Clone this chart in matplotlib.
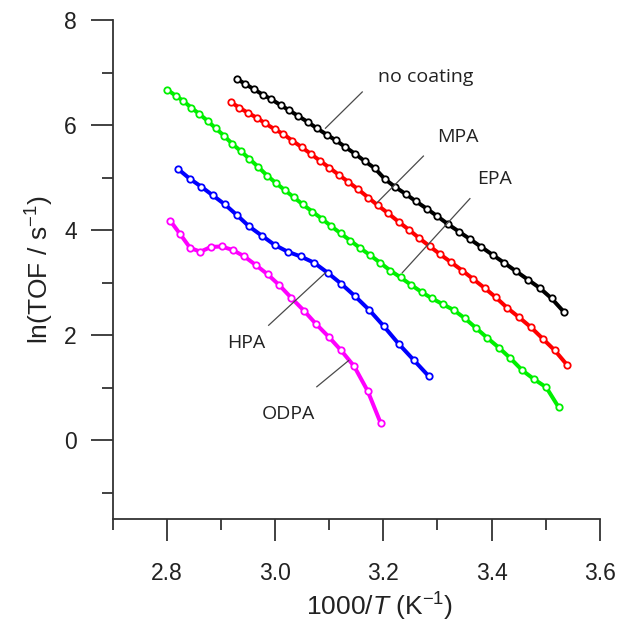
import matplotlib
matplotlib.use("Agg")
import matplotlib.pyplot as plt
from matplotlib.ticker import MultipleLocator

plt.rcParams['font.family'] = 'Liberation Sans'
plt.rcParams['mathtext.fontset'] = 'custom'
plt.rcParams['mathtext.rm'] = 'Liberation Sans'
plt.rcParams['mathtext.it'] = 'Liberation Sans:italic'

# 1000/T (K^-1) and ln(TOF / s^-1)
x_none = [2.929, 2.945, 2.961, 2.977, 2.993, 3.010, 3.026, 3.043, 3.060, 3.077,
          3.095, 3.112, 3.130, 3.148, 3.166, 3.184, 3.203, 3.222, 3.241, 3.260,
          3.280, 3.299, 3.320, 3.340, 3.360, 3.381, 3.402, 3.423, 3.445, 3.467,
          3.489, 3.511, 3.534]
y_none = [6.88, 6.78, 6.68, 6.58, 6.49, 6.38, 6.28, 6.17, 6.06, 5.94,
          5.82, 5.71, 5.58, 5.45, 5.31, 5.18, 4.97, 4.82, 4.69, 4.55,
          4.41, 4.27, 4.11, 3.97, 3.83, 3.68, 3.53, 3.38, 3.22, 3.06,
          2.90, 2.70, 2.44]

x_mpa = [2.919, 2.934, 2.950, 2.966, 2.982, 2.999, 3.015, 3.032, 3.049, 3.066,
         3.083, 3.100, 3.118, 3.135, 3.153, 3.172, 3.190, 3.209, 3.228, 3.247,
         3.266, 3.286, 3.305, 3.325, 3.346, 3.366, 3.387, 3.408, 3.429, 3.451,
         3.473, 3.495, 3.517, 3.540]
y_mpa = [6.43, 6.33, 6.23, 6.14, 6.03, 5.92, 5.83, 5.70, 5.58, 5.45,
         5.32, 5.19, 5.05, 4.92, 4.78, 4.62, 4.47, 4.32, 4.16, 4.01,
         3.85, 3.69, 3.54, 3.39, 3.23, 3.07, 2.90, 2.72, 2.52, 2.34,
         2.15, 1.93, 1.71, 1.43]

x_epa = [2.801, 2.816, 2.830, 2.845, 2.860, 2.875, 2.890, 2.905, 2.921, 2.937,
         2.952, 2.969, 2.985, 3.001, 3.018, 3.034, 3.051, 3.069, 3.086, 3.103,
         3.121, 3.139, 3.157, 3.176, 3.194, 3.213, 3.232, 3.251, 3.271, 3.290,
         3.310, 3.330, 3.351, 3.371, 3.392, 3.414, 3.435, 3.457, 3.479, 3.501,
         3.524]
y_epa = [6.67, 6.56, 6.46, 6.33, 6.21, 6.08, 5.94, 5.80, 5.64, 5.50,
         5.36, 5.20, 5.04, 4.90, 4.76, 4.63, 4.49, 4.35, 4.22, 4.08,
         3.94, 3.80, 3.66, 3.52, 3.38, 3.23, 3.10, 2.96, 2.82, 2.70,
         2.59, 2.48, 2.32, 2.14, 1.95, 1.76, 1.56, 1.33, 1.16, 1.01,
         0.63]

x_hpa = [2.821, 2.842, 2.863, 2.885, 2.907, 2.930, 2.952, 2.976, 2.999, 3.023,
         3.047, 3.072, 3.097, 3.122, 3.148, 3.174, 3.201, 3.228, 3.256, 3.284]
y_hpa = [5.16, 4.98, 4.83, 4.66, 4.49, 4.28, 4.07, 3.89, 3.72, 3.59,
         3.50, 3.38, 3.19, 2.98, 2.74, 2.48, 2.17, 1.84, 1.53, 1.22]

x_odpa = [2.806, 2.824, 2.843, 2.862, 2.881, 2.901, 2.922, 2.943, 2.965, 2.986,
          3.008, 3.030, 3.053, 3.075, 3.099, 3.122, 3.146, 3.171, 3.195]
y_odpa = [4.18, 3.93, 3.66, 3.59, 3.68, 3.69, 3.62, 3.50, 3.33, 3.16,
          2.95, 2.71, 2.47, 2.22, 1.97, 1.71, 1.41, 0.94, 0.33]

series = [
    (x_none, y_none, "black"),
    (x_mpa, y_mpa, "#ff0000"),
    (x_epa, y_epa, "#00f000"),
    (x_hpa, y_hpa, "#0000ff"),
    (x_odpa, y_odpa, "#ff00ff"),
]

# label text, text anchor, leader line start/end
labels = ["no coating", "MPA", "EPA", "HPA", "ODPA"]
label_xy = [(3.191, 6.91), (3.300, 5.77), (3.374, 4.97), (2.911, 1.85), (2.976, 0.51)]
leaders = [((3.161, 6.63), (3.093, 5.94)),
           ((3.274, 5.41), (3.189, 4.53)),
           ((3.360, 4.60), (3.235, 3.19)),
           ((3.093, 3.19), (2.988, 2.19)),
           ((3.136, 1.52), (3.077, 1.02))]

fig = plt.figure(figsize=(6.34, 6.24), dpi=100)
ax = fig.add_axes([0.178, 0.168, 0.768, 0.800])

for xs, ys, c in series:
    ax.plot(xs, ys, color=c, lw=2.9, marker="o", ms=4.6, mfc="white",
            mec=c, mew=1.3, zorder=2)

for (p0, p1) in leaders:
    ax.plot([p0[0], p1[0]], [p0[1], p1[1]], color="#4a4a4a", lw=0.9, zorder=3)

for txt, (tx, ty) in zip(labels, label_xy):
    ax.text(tx, ty, txt, fontsize=14, family="Open Sans", color="#222222",
            ha="left", va="center")

ax.set_xlim(2.7, 3.6)
ax.set_ylim(-1.5, 8)
ax.xaxis.set_major_locator(MultipleLocator(0.2))
ax.xaxis.set_minor_locator(MultipleLocator(0.1))
ax.yaxis.set_major_locator(MultipleLocator(2))
ax.yaxis.set_minor_locator(MultipleLocator(1))
ax.set_xticks([2.8, 3.0, 3.2, 3.4, 3.6])
ax.set_xticklabels(["2.8", "3.0", "3.2", "3.4", "3.6"])

ax.spines["top"].set_visible(False)
ax.spines["right"].set_visible(False)
for s in ["left", "bottom"]:
    ax.spines[s].set_linewidth(1.3)
    ax.spines[s].set_color("#333333")

ax.tick_params(which="major", direction="out", length=16, width=1.3,
               colors="#333333", labelsize=16.5, labelcolor="#222222")
ax.tick_params(axis="x", which="major", pad=15)
ax.tick_params(axis="y", which="major", pad=10)
ax.tick_params(which="minor", direction="out", length=8, width=1.3, colors="#333333")

ax.set_xlabel("1000/$\\mathit{T}$ (K$^{-1}$)", fontsize=19, color="#222222")
ax.xaxis.set_label_coords(0.548, -0.143)
ax.set_ylabel("ln(TOF / s$^{-1}$)", fontsize=19, labelpad=6, color="#222222")

fig.savefig("out.png", dpi=100)
